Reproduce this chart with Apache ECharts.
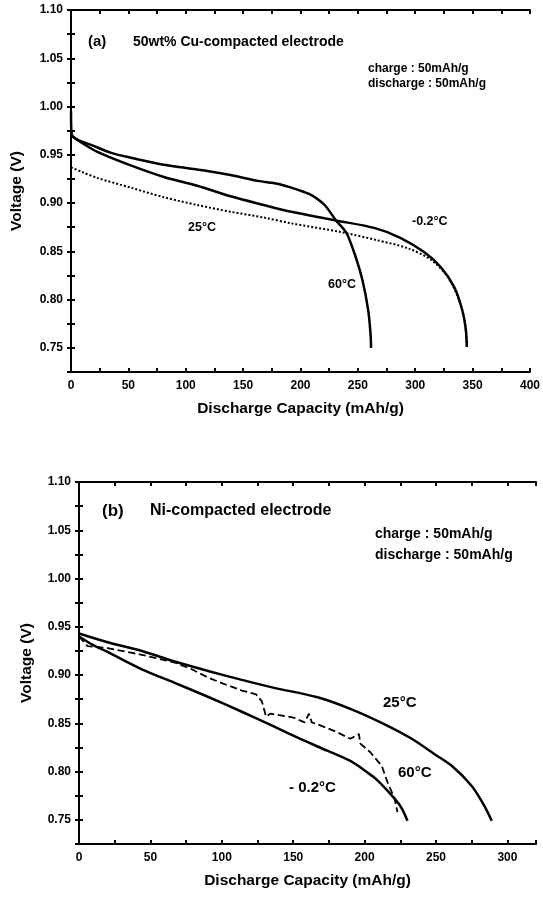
<!DOCTYPE html>
<html>
<head>
<meta charset="utf-8">
<script src="https://cdn.jsdelivr.net/npm/echarts@6/dist/echarts.min.js"></script>
<style>
  html, body { margin: 0; padding: 0; background: #fff; }
  #chartBox { width: 543px; height: 897px; }
</style>
</head>
<body>
<div id="chartBox"></div>
<script>
// (a) 50wt% Cu-compacted electrode : [capacity mAh/g, voltage V]
const cu60 = [[0, 0.995], [0.5, 0.972], [5, 0.966], [18, 0.960], [35, 0.952], [52, 0.947], [75, 0.941], [96, 0.937], [120, 0.933], [139, 0.929], [163, 0.923], [180, 0.920], [192, 0.916], [202, 0.912], [210, 0.908], [221, 0.898], [231, 0.882], [240, 0.869], [247, 0.848], [254, 0.820], [259, 0.789], [261, 0.765], [261.5, 0.75]]
const cuMinus = [[0, 0.970], [10, 0.962], [23, 0.953], [52, 0.939], [81, 0.927], [110, 0.918], [139, 0.907], [168, 0.898], [192, 0.891], [231, 0.882], [265, 0.874], [287, 0.864], [308, 0.849], [322, 0.834], [334, 0.813], [341, 0.789], [344, 0.770], [345, 0.751]]
const cu25 = [[0, 0.937], [10, 0.932], [23, 0.926], [52, 0.916], [81, 0.906], [110, 0.898], [139, 0.891], [168, 0.885], [192, 0.879], [235, 0.870], [265, 0.862], [294, 0.853], [314, 0.841], [328, 0.824], [337, 0.803], [343, 0.779], [345, 0.751]]

// (b) Ni-compacted electrode
const ni25 = [[0, 0.943], [20, 0.934], [44, 0.925], [67, 0.914], [91, 0.904], [114, 0.895], [136, 0.887], [167, 0.877], [190, 0.865], [214, 0.849], [233, 0.834], [249, 0.818], [261, 0.806], [275, 0.785], [284, 0.764], [289, 0.749]]
const niMinus = [[0, 0.940], [10, 0.931], [20, 0.924], [44, 0.906], [67, 0.892], [91, 0.877], [114, 0.862], [136, 0.847], [155, 0.834], [167, 0.826], [190, 0.811], [202, 0.799], [209, 0.791], [221, 0.772], [226, 0.762], [230, 0.749]]
const ni60 = [[0, 0.940], [6, 0.930], [20, 0.928], [44, 0.921], [67, 0.913], [79, 0.906], [91, 0.897], [103, 0.890], [114, 0.884], [124, 0.880], [128, 0.873], [131, 0.857], [134, 0.860], [150, 0.856], [158, 0.851], [161, 0.860], [163, 0.851], [167, 0.849], [179, 0.842], [190, 0.834], [196, 0.839], [197, 0.829], [204, 0.820], [212, 0.806], [216, 0.789], [221, 0.772], [223, 0.758]]

const xMaxA = 400
const xMaxB = 320
const yMin = 0.725
const yMax = 1.10

const font = 'Liberation Sans, Arial, sans-serif'

function xAxis (grid, max, top) {
  return {
    type: 'value',
    gridIndex: grid,
    position: top ? 'top' : 'bottom',
    min: 0,
    max: max,
    interval: 25,
    name: top ? '' : 'Discharge Capacity (mAh/g)',
    nameLocation: 'middle',
    nameGap: 29,
    nameTextStyle: { color: '#000', fontFamily: font, fontWeight: 'bold', fontSize: 15.5 },
    axisLine: { lineStyle: { color: '#000', width: 2 } },
    axisTick: { inside: true, length: 4, lineStyle: { color: '#000', width: 2 } },
    axisLabel: {
      show: !top,
      color: '#000',
      fontFamily: font,
      fontWeight: 'bold',
      fontSize: 12,
      margin: 8,
      formatter: v => (Math.round(v) % 50 === 0 ? String(Math.round(v)) : '')
    },
    splitLine: { show: false }
  }
}

function yAxis (grid, right, gap) {
  return {
    type: 'value',
    gridIndex: grid,
    position: right ? 'right' : 'left',
    min: yMin,
    max: yMax,
    interval: 0.025,
    name: right ? '' : 'Voltage (V)',
    nameLocation: 'middle',
    nameGap: gap,
    nameTextStyle: { color: '#000', fontFamily: font, fontWeight: 'bold', fontSize: 15.5 },
    axisLine: { lineStyle: { color: '#000', width: 2 } },
    axisTick: { inside: true, length: 4, lineStyle: { color: '#000', width: 2 } },
    axisLabel: {
      show: !right,
      color: '#000',
      fontFamily: font,
      fontWeight: 'bold',
      fontSize: 12,
      margin: 8,
      formatter: v => {
        let k = Math.round(v * 1000)
        return k % 50 === 0 ? (k / 1000).toFixed(2) : ''
      }
    },
    splitLine: { show: false }
  }
}

function curve (data, grid, type, width, smooth) {
  return {
    type: 'line',
    xAxisIndex: grid * 2,
    yAxisIndex: grid * 2,
    data: data,
    showSymbol: false,
    smooth: smooth,
    silent: true,
    lineStyle: { color: '#000', width: width, type: type }
  }
}

function txt (x, y, text, size) {
  return {
    type: 'text',
    x: x,
    y: y,
    style: {
      text: text,
      fill: '#000',
      font: 'bold ' + size + 'px ' + font,
      verticalAlign: 'middle'
    }
  }
}

let myChart = echarts.init(document.getElementById('chartBox'))
myChart.setOption({
  backgroundColor: '#fff',
  animation: false,
  grid: [
    { left: 71, right: 11, top: 10, height: 362 },
    { left: 79, right: 7, top: 482, height: 362 }
  ],
  xAxis: [
    xAxis(0, xMaxA, false),
    xAxis(0, xMaxA, true),
    xAxis(1, xMaxB, false),
    xAxis(1, xMaxB, true)
  ],
  yAxis: [
    yAxis(0, false, 46),
    yAxis(0, true, 0),
    yAxis(1, false, 44),
    yAxis(1, true, 0)
  ],
  series: [
    curve(cu60, 0, 'solid', 2.5, 0.3),
    curve(cuMinus, 0, 'solid', 2.5, 0.3),
    curve(cu25, 0, 'dotted', 2, 0.3),
    curve(ni25, 1, 'solid', 2.5, 0.3),
    curve(niMinus, 1, 'solid', 2.5, 0.3),
    curve(ni60, 1, 'dashed', 1.8, false)
  ],
  graphic: [
    txt(88, 42, '(a)', 15),
    txt(133, 42, '50wt% Cu-compacted electrode', 14),
    txt(368, 69, 'charge : 50mAh/g', 12),
    txt(368, 84, 'discharge : 50mAh/g', 12),
    txt(188, 228, '25°C', 12.5),
    txt(328, 285, '60°C', 12.5),
    txt(412, 222, '-0.2°C', 12.5),
    txt(102, 511, '(b)', 17),
    txt(150, 511, 'Ni-compacted electrode', 16),
    txt(375, 534, 'charge : 50mAh/g', 14),
    txt(375, 555, 'discharge : 50mAh/g', 14),
    txt(383, 703, '25°C', 15),
    txt(398, 773, '60°C', 15),
    txt(289, 788, '- 0.2°C', 15)
  ]
})
</script>
</body>
</html>
